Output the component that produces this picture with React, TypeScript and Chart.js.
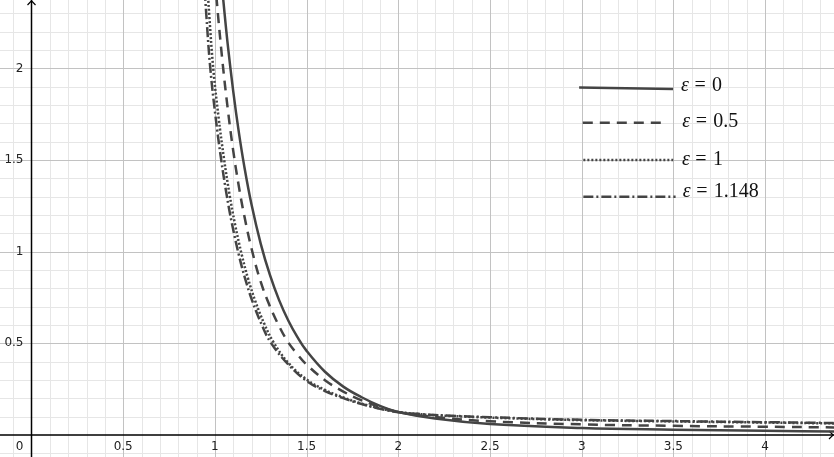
import React, { useEffect, useRef } from "react";
import { Chart, registerables } from "chart.js";

Chart.register(...registerables);

// ---------- data ----------
const seriesLabels = ["ε = 0", "ε = 0.5", "ε = 1", "ε = 1.148"];
const epsText = ["0", "0.5", "1", "1.148"];

const xEps0 = [1.03, 1.046, 1.07, 1.1, 1.13, 1.16, 1.2, 1.25, 1.3, 1.35, 1.4, 1.45, 1.5, 1.6, 1.7, 1.8, 1.9, 2.0, 2.2, 2.5, 3.0, 3.5, 4.0, 4.4];
const yEps0 = [2.54, 2.37, 2.13, 1.875, 1.655, 1.467, 1.256, 1.043, 0.873, 0.736, 0.625, 0.534, 0.459, 0.345, 0.264, 0.206, 0.159, 0.126, 0.09, 0.06, 0.038, 0.029, 0.023, 0.019];

const xEps05 = [0.993, 1.01, 1.04, 1.07, 1.1, 1.13, 1.16, 1.2, 1.25, 1.3, 1.35, 1.4, 1.45, 1.5, 1.6, 1.7, 1.8, 1.9, 2.0, 2.2, 2.5, 3.0, 3.5, 4.0, 4.4];
const yEps05 = [2.58, 2.37, 2.05, 1.78, 1.55, 1.36, 1.197, 1.016, 0.835, 0.702, 0.594, 0.505, 0.44, 0.384, 0.299, 0.237, 0.189, 0.153, 0.125, 0.098, 0.075, 0.058, 0.05, 0.045, 0.041];

const xEps1 = [0.955, 0.97, 0.991, 1.02, 1.05, 1.08, 1.11, 1.146, 1.18, 1.22, 1.27, 1.32, 1.4, 1.5, 1.6, 1.7, 1.8, 1.9, 2.0, 2.1, 2.2, 2.5, 3.0, 3.5, 4.0, 4.4];
const yEps1 = [2.52, 2.28, 2.0, 1.733, 1.504, 1.311, 1.148, 0.985, 0.856, 0.731, 0.605, 0.505, 0.394, 0.303, 0.246, 0.205, 0.171, 0.145, 0.126, 0.1155, 0.108, 0.095, 0.081, 0.074, 0.068, 0.063];

const xEps1148 = [0.939, 0.954, 0.975, 1.004, 1.034, 1.064, 1.094, 1.13, 1.164, 1.204, 1.254, 1.304, 1.4, 1.5, 1.6, 1.7, 1.8, 1.9, 2.0, 2.1, 2.2, 2.5, 3.0, 3.5, 4.0, 4.4];
const yEps1148 = [2.52, 2.28, 2.0, 1.733, 1.504, 1.311, 1.148, 0.985, 0.856, 0.731, 0.605, 0.505, 0.385, 0.295, 0.24, 0.201, 0.169, 0.143, 0.124, 0.1155, 0.109, 0.097, 0.083, 0.076, 0.07, 0.065];

const xTickValues = [0.5, 1, 1.5, 2, 2.5, 3, 3.5, 4];
const xTickLabels = ["0.5", "1", "1.5", "2", "2.5", "3", "3.5", "4"];
const yTickValues = [0.5, 1, 1.5, 2];
const yTickLabels = ["0.5", "1", "1.5", "2"];
const originLabel = "0";

// ---------- layout / style ----------
const X_MIN = -0.1718;
const X_MAX = 4.3757;
const Y_MIN = -0.12;
const Y_MAX = 2.3732;
const MINOR_STEP = 0.1;

const LINE_COLOR = "#444444";
const dashes: number[][] = [[], [10, 7], [2, 2], [10, 3, 2, 3]];

// legend segments and text anchors, in data units
const legendSegs = [
  [2.986, 1.896, 3.498, 1.888],
  [3.006, 1.704, 3.467, 1.704],
  [3.009, 1.5, 3.499, 1.5],
  [3.009, 1.3, 3.512, 1.3],
];
const legendText = [
  [3.547, 1.877],
  [3.554, 1.68],
  [3.552, 1.473],
  [3.557, 1.298],
];

const toPts = (xs: number[], ys: number[]) => xs.map((x, i) => ({ x, y: ys[i] }));

const gridPlugin = {
  id: "ggbGrid",
  beforeDatasetsDraw(chart: any) {
    const { ctx, scales, width, height } = chart;
    const sx = scales.x;
    const sy = scales.y;
    ctx.save();
    const isMajor = (v: number) => Math.abs(v * 2 - Math.round(v * 2)) < 1e-6;
    const drawV = (v: number, color: string) => {
      const p = Math.round(sx.getPixelForValue(v)) + 0.5;
      ctx.strokeStyle = color;
      ctx.beginPath();
      ctx.moveTo(p, 0);
      ctx.lineTo(p, height);
      ctx.stroke();
    };
    const drawH = (v: number, color: string) => {
      const p = Math.round(sy.getPixelForValue(v)) + 0.5;
      ctx.strokeStyle = color;
      ctx.beginPath();
      ctx.moveTo(0, p);
      ctx.lineTo(width, p);
      ctx.stroke();
    };
    ctx.lineWidth = 1;
    const xs0 = Math.ceil(X_MIN / MINOR_STEP);
    const xs1 = Math.floor(X_MAX / MINOR_STEP);
    const ys0 = Math.ceil(Y_MIN / MINOR_STEP);
    const ys1 = Math.floor(Y_MAX / MINOR_STEP);
    for (let i = xs0; i <= xs1; i++) {
      const v = i * MINOR_STEP;
      if (!isMajor(v)) drawV(v, "#e6e6e6");
    }
    for (let i = ys0; i <= ys1; i++) {
      const v = i * MINOR_STEP;
      if (!isMajor(v)) drawH(v, "#e6e6e6");
    }
    for (let i = xs0; i <= xs1; i++) {
      const v = i * MINOR_STEP;
      if (isMajor(v) && Math.abs(v) > 1e-9) drawV(v, "#c2c2c2");
    }
    for (let i = ys0; i <= ys1; i++) {
      const v = i * MINOR_STEP;
      if (isMajor(v) && Math.abs(v) > 1e-9) drawH(v, "#c2c2c2");
    }
    const ax = sx.getPixelForValue(0);
    const ay = sy.getPixelForValue(0);
    ctx.strokeStyle = "#000";
    ctx.lineWidth = 1.5;
    ctx.beginPath();
    ctx.moveTo(0, ay);
    ctx.lineTo(width, ay);
    ctx.moveTo(ax, height);
    ctx.lineTo(ax, 0);
    ctx.stroke();
    ctx.lineWidth = 1.2;
    ctx.beginPath();
    ctx.moveTo(ax - 4, 5);
    ctx.lineTo(ax, 0.8);
    ctx.lineTo(ax + 4, 5);
    ctx.moveTo(width - 5, ay - 4);
    ctx.lineTo(width - 0.8, ay);
    ctx.lineTo(width - 5, ay + 4);
    ctx.stroke();
    ctx.fillStyle = "#222";
    ctx.font = '12px "DejaVu Sans"';
    ctx.textBaseline = "middle";
    ctx.textAlign = "center";
    xTickValues.forEach((v, i) => {
      ctx.fillText(xTickLabels[i], sx.getPixelForValue(v), ay + 12);
    });
    ctx.textAlign = "right";
    yTickValues.forEach((v, i) => {
      ctx.fillText(yTickLabels[i], ax - 8, sy.getPixelForValue(v));
    });
    ctx.fillText(originLabel, ax - 8, ay + 12);
    ctx.restore();
  },
};

const legendPlugin = {
  id: "ggbLegend",
  afterDatasetsDraw(chart: any) {
    const { ctx, scales } = chart;
    const sx = scales.x;
    const sy = scales.y;
    ctx.save();
    const em = 20;
    legendSegs.forEach((s, i) => {
      ctx.strokeStyle = LINE_COLOR;
      ctx.lineWidth = 2.5;
      ctx.setLineDash(dashes[i]);
      ctx.lineCap = "butt";
      ctx.beginPath();
      ctx.moveTo(sx.getPixelForValue(s[0]), sy.getPixelForValue(s[1]));
      ctx.lineTo(sx.getPixelForValue(s[2]), sy.getPixelForValue(s[3]));
      ctx.stroke();
      ctx.setLineDash([]);
      const tx = sx.getPixelForValue(legendText[i][0]);
      const ty = sy.getPixelForValue(legendText[i][1]);
      ctx.fillStyle = "#111";
      ctx.textBaseline = "alphabetic";
      ctx.textAlign = "left";
      ctx.font = `italic ${em}px "Liberation Serif"`;
      ctx.fillText("ε", tx - 1, ty);
      ctx.font = `${em}px "Liberation Serif"`;
      ctx.textAlign = "center";
      ctx.fillText("=", tx + 18, ty);
      ctx.textAlign = "left";
      ctx.fillText(epsText[i], tx + 30, ty);
    });
    ctx.restore();
  },
};

export default function App() {
  const ref = useRef<HTMLCanvasElement>(null);
  useEffect(() => {
    document.body.style.margin = "0";
    const series = [
      toPts(xEps0, yEps0),
      toPts(xEps05, yEps05),
      toPts(xEps1, yEps1),
      toPts(xEps1148, yEps1148),
    ];
    const chart = new Chart(ref.current as HTMLCanvasElement, {
      type: "line",
      data: {
        datasets: series.map((d, i) => ({
          label: seriesLabels[i],
          data: d,
          borderColor: LINE_COLOR,
          borderWidth: 2.5,
          borderDash: dashes[i],
          borderCapStyle: "butt",
          pointRadius: 0,
          fill: false,
          tension: 0.4,
        })),
      },
      options: {
        responsive: false,
        animation: false,
        events: [],
        layout: { padding: 0 },
        plugins: { legend: { display: false }, tooltip: { enabled: false } },
        scales: {
          x: { type: "linear", min: X_MIN, max: X_MAX, display: false },
          y: { type: "linear", min: Y_MIN, max: Y_MAX, display: false },
        },
      },
      plugins: [gridPlugin, legendPlugin],
    } as any);
    return () => chart.destroy();
  }, []);
  return (
    <div style={{ width: 834, height: 457 }}>
      <canvas ref={ref} width={834} height={457} />
    </div>
  );
}
